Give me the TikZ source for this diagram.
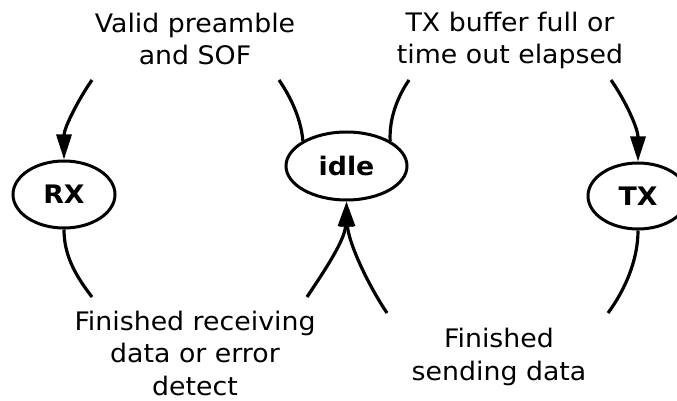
\documentclass[tikz,border=0pt]{standalone}
\usepackage{fontspec}
\setmainfont{DejaVu Sans}[FakeStretch=1.05]
\usetikzlibrary{arrows.meta,shapes.geometric}
\begin{document}
\begin{tikzpicture}[x=1pt,y=-1pt,
  state/.style={ellipse,draw,line width=3pt,inner sep=0pt,font=\fontsize{25.5}{30}\selectfont\bfseries},
  lbl/.style={align=center,inner sep=0pt,font=\fontsize{25.5}{32.5}\selectfont,anchor=base},
  edgeline/.style={line width=3.2pt},
  arr/.style={edgeline,-{Triangle[length=25pt,width=15pt]}}]
\useasboundingbox (0,0) rectangle (677,401);
\clip (0,0) rectangle (677,401);

\node[state,minimum width=102pt,minimum height=67pt] (RX) at (64,194.5) {RX};
\node[state,minimum width=121pt,minimum height=68pt] (idle) at (346.5,166) {idle};
\node[state,minimum width=100pt,minimum height=66pt] (TX) at (638,196) {TX};

\node[lbl] (l1) at (195,65) {Valid preamble\\and SOF};
\node[lbl] (l2) at (510,64) {TX buffer full or\\time out elapsed};
\node[lbl] (l3) at (195,395) {Finished receiving\\data or error\\detect};
\node[lbl] (l4) at (499,380) {Finished\\sending data};

\coordinate (a1) at (279,80);
\coordinate (a2) at (92,80);
\coordinate (b1) at (409,80);
\coordinate (b2) at (611,80);
\coordinate (c1) at (92,297);
\coordinate (c2) at (307,297);
\coordinate (d1) at (608,313);
\coordinate (d2) at (387,313);

% idle -> RX
\draw[edgeline] (idle.150) .. controls (301,118) and (290,96) .. (a1);
\draw[arr] (a2) .. controls (78,100) and (64,128) .. (RX.north);
% idle -> TX
\draw[edgeline] (idle.30) .. controls (389,118) and (398,96) .. (b1);
\draw[arr] (b2) .. controls (625,100) and (638,128) .. (TX.north);
% RX -> idle
\draw[edgeline] (RX.south) .. controls (64,255) and (75,275) .. (c1);
\draw[arr] (c2) .. controls (325,270) and (345,240) .. (idle.south);
% TX -> idle
\draw[edgeline] (TX.south) .. controls (638,260) and (625,290) .. (d1);
\draw[arr] (d2) .. controls (365,280) and (348,240) .. (idle.south);
\end{tikzpicture}
\end{document}
